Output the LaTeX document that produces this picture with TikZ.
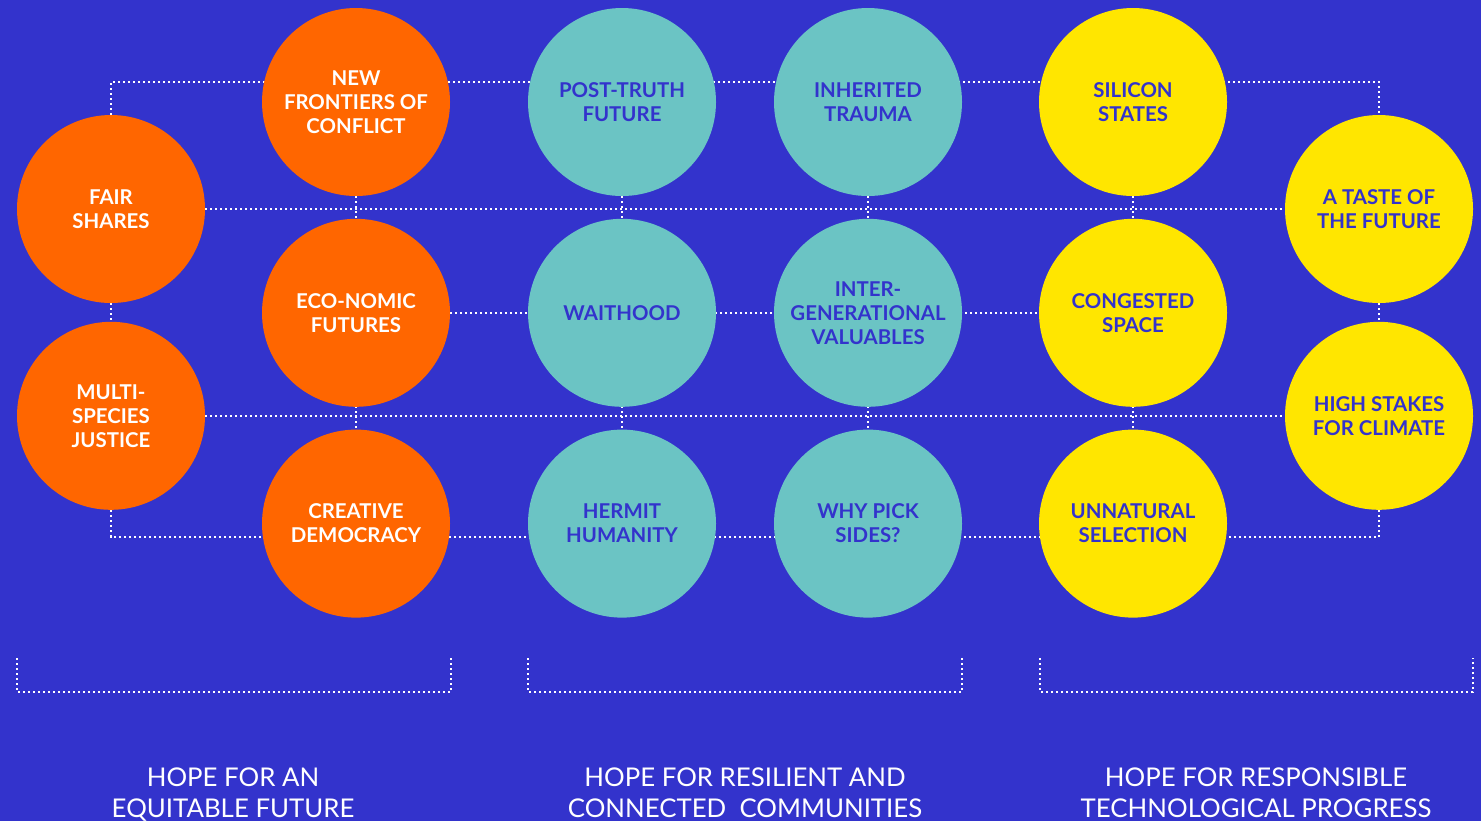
\documentclass[tikz,border=0pt]{standalone}
\usepackage{fontspec}
\setmainfont{Lato}
\usetikzlibrary{positioning}
\pgfdeclarelayer{back}
\pgfdeclarelayer{links}
\pgfsetlayers{back,links,main}
\definecolor{bgblue}{HTML}{3333CC}
\definecolor{fireorange}{HTML}{FF6600}
\definecolor{seateal}{HTML}{6BC4C4}
\definecolor{sunyellow}{HTML}{FFE600}

\begin{document}
\begin{tikzpicture}[x=0.5pt,y=-0.5pt,node distance=11pt,
  ball/.style={circle, minimum size=94pt, inner sep=0pt, align=center, font=\bfseries\fontsize{10.2}{12}\selectfont},
  orangeball/.style={ball, fill=fireorange, text=white},
  tealball/.style={ball, fill=seateal, text=bgblue},
  yellowball/.style={ball, fill=sunyellow, text=bgblue},
  link/.style={draw=white, line width=1pt, dash pattern=on 1pt off 1.5pt},
  hope/.style={text=white, align=center, font=\fontsize{12.9}{15.5}\selectfont}]
\useasboundingbox (0,0) rectangle (1481,821);
\clip (0,0) rectangle (1481,821);
\begin{pgfonlayer}{back}
\fill[bgblue] (0,0) rectangle (1481,821);
\end{pgfonlayer}

% equitable future
\node (fair) [orangeball] at (111,209) {FAIR\\SHARES};
\node (multi) [orangeball, below=9pt of fair] {MULTI-\\SPECIES\\JUSTICE};
\node (frontiers) [orangeball] at (356,102) {NEW\\FRONTIERS OF\\CONFLICT};
\node (economic) [orangeball, below=of frontiers] {ECO-NOMIC\\FUTURES};
\node (creative) [orangeball, below=of economic] {CREATIVE\\DEMOCRACY};

% resilient communities
\node (posttruth) [tealball] at (622,102) {POST-TRUTH\\FUTURE};
\node (waithood) [tealball, below=of posttruth] {WAITHOOD};
\node (hermit) [tealball, below=of waithood] {HERMIT\\HUMANITY};
\node (trauma) [tealball] at (868,102) {INHERITED\\TRAUMA};
\node (valuables) [tealball, below=of trauma] {INTER-\\GENERATIONAL\\VALUABLES};
\node (sides) [tealball, below=of valuables] {WHY PICK\\SIDES?};

% technological progress
\node (silicon) [yellowball] at (1133,102) {SILICON\\STATES};
\node (congested) [yellowball, below=of silicon] {CONGESTED\\SPACE};
\node (unnatural) [yellowball, below=of congested] {UNNATURAL\\SELECTION};
\node (taste) [yellowball] at (1379,209) {A TASTE OF\\THE FUTURE};
\node (stakes) [yellowball, below=9pt of taste] {HIGH STAKES\\FOR CLIMATE};

\coordinate (tl) at (111,82);
\coordinate (tr) at (1379,82);
\coordinate (bl) at (111,537);
\coordinate (br) at (1379,537);

\begin{pgfonlayer}{links}
\draw[link] (fair) -- (tl) -- (tr) -- (taste);
\draw[link] (multi) -- (bl) -- (br) -- (stakes);
\draw[link] (fair) -- (multi);
\draw[link] (taste) -- (stakes);
\draw[link] (fair) -- (taste);
\draw[link] (multi) -- (stakes);
\draw[link] (economic) -- (congested);
\draw[link] (frontiers) -- (creative);
\draw[link] (posttruth) -- (hermit);
\draw[link] (trauma) -- (sides);
\draw[link] (silicon) -- (unnatural);
\end{pgfonlayer}

% brackets and themes
\draw[link] (17,658) -- (17,692) -- (451,692) -- (451,658);
\draw[link] (528,658) -- (528,692) -- (962,692) -- (962,658);
\draw[link] (1040,658) -- (1040,692) -- (1473,692) -- (1473,658);
\node (equitable) [hope] at (233,795) {HOPE FOR AN\\EQUITABLE FUTURE};
\node (resilient) [hope] at (745,793) {HOPE FOR RESILIENT AND\\CONNECTED\ \ COMMUNITIES};
\node (responsible) [hope] at (1256,793) {HOPE FOR RESPONSIBLE\\TECHNOLOGICAL PROGRESS};
\end{tikzpicture}
\end{document}
